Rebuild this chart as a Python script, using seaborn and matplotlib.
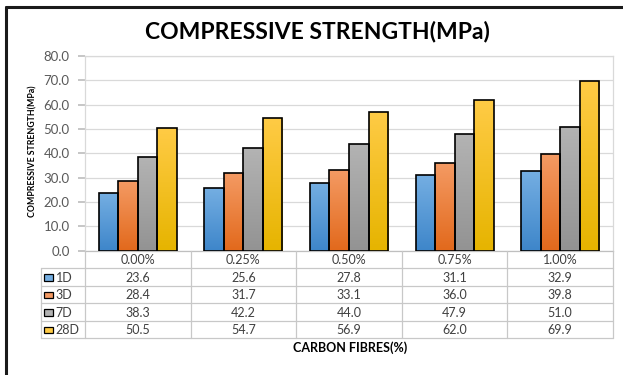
import numpy as np
import pandas as pd
import matplotlib
matplotlib.use('Agg')
import matplotlib.pyplot as plt
import matplotlib.colors as mcolors
from matplotlib.lines import Line2D
from matplotlib.patches import Rectangle
import seaborn as sns

fibres = ['0.00%', '0.25%', '0.50%', '0.75%', '1.00%']
ages = ['1D', '3D', '7D', '28D']
strength_1d = [23.6, 25.6, 27.8, 31.1, 32.9]
strength_3d = [28.4, 31.7, 33.1, 36.0, 39.8]
strength_7d = [38.3, 42.2, 44.0, 47.9, 51.0]
strength_28d = [50.5, 54.7, 56.9, 62.0, 69.9]
y_ticks = [0, 10, 20, 30, 40, 50, 60, 70, 80]

series = [strength_1d, strength_3d, strength_7d, strength_28d]
df = pd.DataFrame({
    'fibre': fibres * len(ages),
    'age': np.repeat(ages, len(fibres)),
    'strength': np.concatenate(series),
})

base = ['#5B9BD5', '#ED7D31', '#A5A5A5', '#FFC000']
grad = {  # top, bottom of each bar gradient
    '#5B9BD5': ('#74AEE2', '#3E86CA'),
    '#ED7D31': ('#F49A63', '#E2691C'),
    '#A5A5A5': ('#B3B3B3', '#939393'),
    '#FFC000': ('#FFCB45', '#E6B400'),
}

sns.set_theme(style='white')
plt.rcParams['font.family'] = ['Lato', 'DejaVu Sans']

W, H = 623, 375
fig = plt.figure(figsize=(W / 100, H / 100), dpi=100)
fig.patch.set_facecolor('white')

def px_axes(x0, y0, x1, y1):
    return fig.add_axes([x0 / W, 1 - y1 / H, (x1 - x0) / W, (y1 - y0) / H])

ax = px_axes(85, 56, 613, 250.5)
sns.barplot(data=df, x='fibre', y='strength', hue='age', order=fibres,
            hue_order=ages, palette=base, saturation=1, width=0.74,
            edgecolor='black', linewidth=1.2, legend=False, ax=ax, zorder=3)

# Excel-ish vertical gradient fill on each bar
for p in list(ax.patches):
    if p.get_height() <= 0:
        continue
    key = mcolors.to_hex(p.get_facecolor()).upper()
    top, bot = grad.get(key, (key, key))
    c = np.linspace(0, 1, 64)[:, None, None]
    img = (1 - c) * np.array(mcolors.to_rgb(top)) + c * np.array(mcolors.to_rgb(bot))
    x0, y0 = p.get_x(), p.get_y()
    im = ax.imshow(img, extent=[x0, x0 + p.get_width(), y0, y0 + p.get_height()],
                   aspect='auto', origin='upper', zorder=2.5, interpolation='bilinear')
    im.set_clip_path(p)
    p.set_facecolor('none')

ax.set_xlim(-0.5, len(fibres) - 0.5)
ax.set_ylim(0, 80)
ax.set_yticks(y_ticks)
ax.set_yticklabels([f'{v:.1f}' for v in y_ticks], fontsize=9.5, color='#595959')
ax.tick_params(axis='y', length=5, color='#BFBFBF', pad=6, left=True)
ax.set_xticks([])
ax.set_xlabel('')
ax.set_ylabel('')
ax.grid(axis='y', color='#D9D9D9', linewidth=0.9, zorder=0)
for s in ax.spines.values():
    s.set_color('#D9D9D9')
    s.set_linewidth(0.9)
ax.spines['bottom'].set_color('#BFBFBF')

# data table under the plot
tab = px_axes(41, 250.5, 613, 338)
lw_col = (85 - 41) / ((613 - 85) / len(fibres))
tab.set_xlim(-0.5 - lw_col, len(fibres) - 0.5)
tab.set_ylim(len(ages) + 1, 0)
tab.axis('off')
gc = '#C8C8C8'
for r in range(1, len(ages) + 2):
    tab.plot([-0.5 - lw_col, len(fibres) - 0.5], [r, r], color=gc, lw=0.9, clip_on=False)
tab.plot([-0.5 - lw_col] * 2, [1, len(ages) + 1], color=gc, lw=0.9, clip_on=False)
for i in range(len(fibres) + 1):
    tab.plot([i - 0.5] * 2, [0, len(ages) + 1], color=gc, lw=0.9, clip_on=False)
for i, f in enumerate(fibres):
    tab.text(i, 0.55, f, ha='center', va='center', fontsize=9, color='#404040')
for r, (a, vals, col) in enumerate(zip(ages, series, base)):
    y = r + 1.55
    tab.add_patch(Rectangle((-0.5 - lw_col + 0.03, y - 0.2), 0.085, 0.38,
                            facecolor=grad[col][0], edgecolor='black', lw=0.9,
                            clip_on=False))
    tab.text(-0.5 - lw_col + 0.14, y, a, ha='left', va='center', fontsize=9,
             color='#404040')
    for i, v in enumerate(vals):
        tab.text(i, y, f'{v:.1f}', ha='center', va='center', fontsize=9,
                 color='#404040')

fig.text(317 / W, 1 - 31 / H, 'COMPRESSIVE STRENGTH(MPa)', ha='center', va='center',
         fontsize=16.5, fontweight='bold', color='black')
fig.text(350 / W, 1 - 348 / H, 'CARBON FIBRES(%)', ha='center', va='center',
         fontsize=9, fontweight='bold', color='black')
fig.text(33 / W, 1 - 151 / H, 'COMPRESSIVE STRENGTH(MPa)', ha='center', va='center',
         rotation=90, fontsize=6.3, fontweight='bold', color='black')

# outer chart frame (cut off at right/bottom in the reference)
fig.add_artist(Line2D([6 / W, 6 / W], [0, 1 - 7 / H], color='#1A1A1A', lw=2.2))
fig.add_artist(Line2D([6 / W, 1], [1 - 7 / H, 1 - 7 / H], color='#1A1A1A', lw=2.2))

fig.savefig('out.png', dpi=100)
